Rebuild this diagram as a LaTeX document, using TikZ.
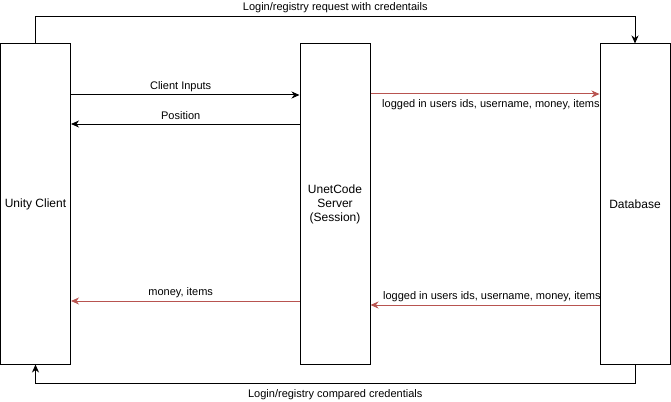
\documentclass[tikz,border=0pt]{standalone}
\usepackage{fontspec}
\setmainfont{Liberation Sans}
\usetikzlibrary{arrows.meta}

\definecolor{linkred}{HTML}{B85450}
\tikzset{
  block/.style={draw, line width=1pt, minimum width=70pt, minimum height=320pt,
    inner sep=0pt, align=center, font=\fontsize{12}{14}\selectfont},
  msg/.style={line width=1pt, -{Stealth[length=8pt,width=7pt,inset=2.5pt]}},
  msglabel/.style={font=\fontsize{11}{13}\selectfont, inner sep=1pt}
}

\begin{document}
\begin{tikzpicture}[x=1pt, y=-1pt]
\useasboundingbox (0,0) rectangle (671,401);

\node[block](unity) at (35.5,204) {Unity Client};
\node[block](server) at (335,204) {UnetCode\\Server\\(Session)};
\node[block](db) at (635,204) {Database};

% client <-> server
\draw[msg] ([yshift=109pt]unity.east) -- node[msglabel, above=2pt, pos=0.48]{Client Inputs} ([yshift=109pt]server.west);
\draw[msg] ([yshift=80pt]server.west) -- node[msglabel, above=3pt, pos=0.52]{Position} ([yshift=80pt]unity.east);
\draw[msg, linkred] ([yshift=-97pt]server.west) -- node[msglabel, text=black, above=2pt, pos=0.52]{money, items} ([yshift=-97pt]unity.east);

% server <-> database
\draw[msg, linkred] ([yshift=110pt]server.east) -- node[msglabel, text=black, below=4pt, pos=0.526]{logged in users ids, username, money, items} ([yshift=110pt]db.west);
\draw[msg, linkred] ([yshift=-101pt]db.west) -- node[msglabel, text=black, above=2pt, pos=0.47]{logged in users ids, username, money, items} ([yshift=-101pt]server.east);

% login request / answer
\draw[msg] (unity.north) -- ++(0,-27) -| node[msglabel, above=2pt, pos=0.25]{Login/registry request with credentails} (db.north);
\draw[msg] (db.south) -- ++(0,19) -| node[msglabel, below=5pt, pos=0.25]{Login/registry compared credentials} (unity.south);
\end{tikzpicture}
\end{document}
